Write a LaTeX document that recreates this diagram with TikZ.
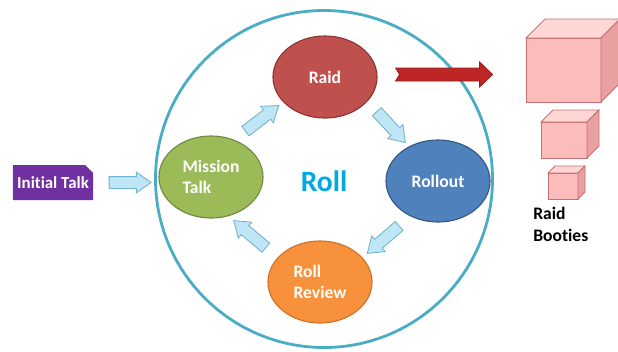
\documentclass[tikz,border=0pt]{standalone}
\usepackage{fontspec}
\setmainfont[Ligatures=NoCommon]{Carlito}
\usetikzlibrary{shapes,arrows,positioning,calc}
\usepackage{xcolor}

\definecolor{ringblue}{RGB}{75,172,198}
\definecolor{rolltext}{RGB}{0,168,228}
\definecolor{raidred}{RGB}{192,80,77}
\definecolor{raidedge}{RGB}{140,52,50}
\definecolor{missiongreen}{RGB}{155,187,89}
\definecolor{missionedge}{RGB}{113,137,63}
\definecolor{rolloutblue}{RGB}{79,129,189}
\definecolor{rolloutedge}{RGB}{52,88,132}
\definecolor{revieworange}{RGB}{247,145,60}
\definecolor{reviewedge}{RGB}{210,110,40}
\definecolor{talkpurple}{RGB}{112,48,160}
\definecolor{flowfill}{RGB}{190,230,244}
\definecolor{flowline}{RGB}{112,178,204}
\definecolor{lootred}{RGB}{190,38,38}
\definecolor{lootredge}{RGB}{150,30,30}
\definecolor{lootfront}{RGB}{253,188,188}
\definecolor{loottop}{RGB}{255,214,214}
\definecolor{lootside}{RGB}{232,160,160}
\definecolor{lootline}{RGB}{196,112,112}

\tikzset{
  phase/.style={ellipse, minimum width=2.6cm, minimum height=2.05cm, inner sep=0pt,
    line width=0.8pt, text=white, align=left, font=\bfseries\fontsize{12.5}{15}\selectfont},
  flow/.style={single arrow, draw=flowline, fill=flowfill, line width=0.6pt,
    minimum height=1.05cm, inner sep=0.1375cm, single arrow head extend=0.11cm,
    single arrow tip angle=70},
  cubeface/.style={draw=lootline, line width=0.6pt}
}

% block arrow half way between two named points
\newcommand{\flowarrow}[2]{%
  \path let \p1=($(#2)-(#1)$), \n1={atan2(\y1,\x1)} in
    node[flow, rotate=\n1] at ($(#1)!0.5!(#2)$) {};}

\begin{document}
\begin{tikzpicture}[x=0.025cm, y=-0.025cm]
    \useasboundingbox (0,0) rectangle (618,351);

    % Cycle ring
    \draw[ringblue, line width=2pt] (324,179) circle[radius=168.5];
    \node[text=rolltext, font=\bfseries\fontsize{21}{24}\selectfont] (roll) at (324,181) {Roll};

    % Phases
    \node[phase, fill=raidred, draw=raidedge] (raid) at (325,77) {Raid};
    \node[phase, fill=rolloutblue, draw=rolloutedge] (rollout) at (438,181) {Rollout};
    \node[phase, fill=revieworange, draw=reviewedge] (review) at (320,282) {Roll\\Review};
    \node[phase, fill=missiongreen, draw=missionedge] (mission) at (211,177) {Mission\\Talk};

    % Start
    \node[chamfered rectangle, chamfered rectangle corners=north east,
      chamfered rectangle xsep=0.1cm, chamfered rectangle ysep=0.1cm,
      fill=talkpurple, text=white, minimum width=2cm, minimum height=0.875cm,
      inner sep=0pt, font=\bfseries\fontsize{12}{14}\selectfont] (talk) at (53,182.5) {Initial Talk};

    % Flow
    \flowarrow{talk.east}{talk.east -| mission.west}
    \flowarrow{mission.58}{raid.211}
    \flowarrow{raid.-30}{rollout.130}
    \flowarrow{rollout.-128}{review.30}
    \flowarrow{review.150}{mission.-66}

    % Raid output
    \begin{scope}[shift={(raid.east)}]
        \draw[fill=lootred, draw=lootredge, line width=0.6pt]
            (18,-9) -- (102,-9) -- (102,-15) -- (115,-2.5) -- (102,10) -- (102,4)
            -- (18,4) -- (22,-2.5) -- cycle;
    \end{scope}

    % Booties
    \foreach \x/\y/\w/\h/\d in {526/38/75/64/19, 541/122/46/36/12, 548/173/30/26/7} {
        \draw[cubeface, fill=lootfront] (\x,\y) rectangle ++(\w,\h);
        \draw[cubeface, fill=loottop] (\x,\y) -- ++(\d,-\d) -- ++(\w,0) -- ++(-\d,\d) -- cycle;
        \draw[cubeface, fill=lootside] (\x+\w,\y) -- ++(\d,-\d) -- ++(0,\h) -- ++(-\d,\d) -- cycle;
    }
    \node[anchor=west, align=left, inner sep=0pt, font=\bfseries\fontsize{12.5}{15.6}\selectfont]
        (booties) at (533,224) {Raid\\Booties};
\end{tikzpicture}
\end{document}
